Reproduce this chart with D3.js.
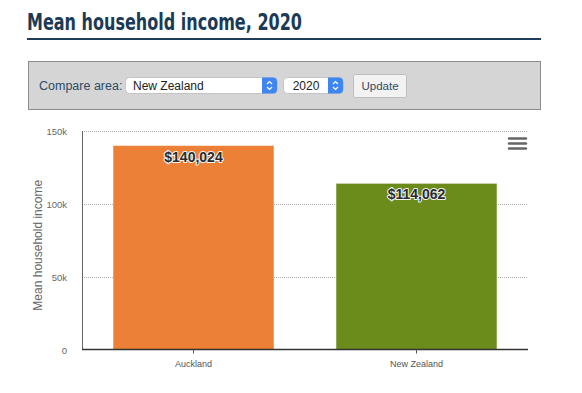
<!DOCTYPE html>
<html lang="en">
<head>
    <meta charset="UTF-8">
    <title>Mean household income, 2020</title>
    <script src="https://d3js.org/d3.v7.min.js"></script>
    <style>
        html, body { margin: 0; padding: 0; background: #fff; }
        svg { display: block; }
    </style>
</head>
<body>
    <div id="chart"></div>
    <script>
        // chart data
        const categories = ["Auckland", "New Zealand"];
        const values = [140024, 114062];
        const yTicks = [0, 50000, 100000, 150000];
        const areaOptions = ["New Zealand"];
        const yearOptions = ["2020"];

        const barColors = ["#ec8036", "#6b8c1b"];
        const width = 582, height = 393;

        const svg = d3.select("#chart").append("svg")
            .attr("width", width)
            .attr("height", height);

        // title + rule (condensed look squeezed with textLength)
        svg.append("text")
            .attr("x", 27).attr("y", 30)
            .attr("font-family", "DejaVu Sans, sans-serif")
            .attr("font-size", 23)
            .attr("font-weight", 600)
            .attr("fill", "#1b3a55")
            .attr("textLength", 275)
            .attr("lengthAdjust", "spacingAndGlyphs")
            .text("Mean household income, 2020");
        svg.append("rect")
            .attr("x", 27).attr("y", 38).attr("width", 514).attr("height", 2)
            .attr("fill", "#1f3d58");

        // control panel
        const ctl = svg.append("g").attr("font-family", "Liberation Sans, Arial, sans-serif");
        ctl.append("rect")
            .attr("x", 28.5).attr("y", 61.5).attr("width", 512).attr("height", 48)
            .attr("fill", "#d5d5d5").attr("stroke", "#8c8c8c");
        ctl.append("text")
            .attr("x", 39).attr("y", 90)
            .attr("font-size", 12.5).attr("fill", "#2d4b63")
            .text("Compare area:");

        function drawSelect(x, w, label, textX, anchor) {
            const g = ctl.append("g");
            g.append("rect")
                .attr("x", x + 0.5).attr("y", 77.5).attr("width", w).attr("height", 16)
                .attr("rx", 4).attr("fill", "#fff").attr("stroke", "#c4c4c4");
            g.append("path")
                .attr("d", `M${x + w - 15},77.5 h11 a4,4 0 0 1 4,4 v8 a4,4 0 0 1 -4,4 h-11 z`)
                .attr("fill", "#3f86f0");
            const cx = x + w - 7.5;
            g.append("path")
                .attr("d", `M${cx - 2.5},84 l2.5,-2.5 l2.5,2.5 M${cx - 2.5},87 l2.5,2.5 l2.5,-2.5`)
                .attr("fill", "none").attr("stroke", "#fff").attr("stroke-width", 1.2);
            g.append("text")
                .attr("x", textX).attr("y", 89.5)
                .attr("text-anchor", anchor)
                .attr("font-size", 12).attr("fill", "#222")
                .text(label);
        }
        drawSelect(125, 152, areaOptions[0], 133, "start");
        drawSelect(283, 60, yearOptions[0], 306, "middle");

        ctl.append("rect")
            .attr("x", 353.5).attr("y", 74.5).attr("width", 53).attr("height", 23)
            .attr("rx", 2).attr("fill", "#f2f2f2").attr("stroke", "#bdbdbd");
        ctl.append("text")
            .attr("x", 380).attr("y", 90)
            .attr("text-anchor", "middle")
            .attr("font-size", 11.5).attr("fill", "#2d4b63")
            .text("Update");

        // chart area
        const plot = { left: 82, right: 528, top: 131, bottom: 349.5 };

        const x = d3.scaleBand()
            .domain(categories)
            .range([plot.left, plot.right])
            .paddingInner(0.278)
            .paddingOuter(0.139);

        const y = d3.scaleLinear()
            .domain([0, 150000])
            .range([plot.bottom, plot.top]);

        const chart = svg.append("g").attr("font-family", "Liberation Sans, Arial, sans-serif");

        // grid lines
        chart.append("g")
            .selectAll("line")
            .data(yTicks.filter(d => d > 0))
            .join("line")
            .attr("x1", plot.left).attr("x2", plot.right)
            .attr("y1", d => Math.round(y(d)) + 0.5).attr("y2", d => Math.round(y(d)) + 0.5)
            .attr("stroke", "#a8a8a8")
            .attr("stroke-dasharray", "1,1");

        // y tick labels
        chart.append("g")
            .selectAll("text")
            .data(yTicks)
            .join("text")
            .attr("x", 67)
            .attr("y", d => y(d) + 4)
            .attr("text-anchor", "end")
            .attr("font-size", 9.5)
            .attr("fill", "#666")
            .text(d => d === 0 ? "0" : d3.format("~s")(d));

        // y title
        chart.append("text")
            .attr("transform", `translate(42,${(plot.top + plot.bottom) / 2 + 5}) rotate(-90)`)
            .attr("text-anchor", "middle")
            .attr("font-size", 12)
            .attr("fill", "#666")
            .text("Mean household income");

        // bars
        chart.append("g")
            .selectAll("rect")
            .data(values)
            .join("rect")
            .attr("x", (d, i) => x(categories[i]))
            .attr("y", d => y(d))
            .attr("width", x.bandwidth())
            .attr("height", d => plot.bottom - y(d))
            .attr("fill", (d, i) => barColors[i])
            .attr("stroke", "#fff")
            .attr("stroke-opacity", 0.5)
            .attr("stroke-width", 1);

        // bar labels
        chart.append("g")
            .selectAll("text")
            .data(values)
            .join("text")
            .attr("x", (d, i) => x(categories[i]) + x.bandwidth() / 2)
            .attr("y", d => y(d) + 16)
            .attr("text-anchor", "middle")
            .attr("font-size", 14)
            .attr("font-weight", "bold")
            .attr("fill", "#2b2b2b")
            .attr("stroke", "#f4f4f4")
            .attr("stroke-width", 2)
            .attr("stroke-linejoin", "round")
            .attr("paint-order", "stroke")
            .text(d => "$" + d3.format(",")(d));

        // axis lines
        chart.append("line")
            .attr("x1", plot.left + 0.5).attr("x2", plot.left + 0.5)
            .attr("y1", plot.top).attr("y2", plot.bottom)
            .attr("stroke", "#666");
        chart.append("line")
            .attr("x1", plot.left).attr("x2", plot.right)
            .attr("y1", plot.bottom).attr("y2", plot.bottom)
            .attr("stroke", "#333").attr("stroke-width", 1.5);

        // x ticks + labels
        const xt = chart.append("g")
            .selectAll("g")
            .data(categories)
            .join("g")
            .attr("transform", d => `translate(${x(d) + x.bandwidth() / 2},0)`);
        xt.append("line")
            .attr("y1", plot.bottom).attr("y2", plot.bottom + 4)
            .attr("stroke", "#555");
        xt.append("text")
            .attr("y", 367)
            .attr("text-anchor", "middle")
            .attr("font-size", 9)
            .attr("fill", "#555")
            .text(d => d);

        // menu icon
        chart.append("g")
            .selectAll("line")
            .data([138.5, 143.5, 148.5])
            .join("line")
            .attr("x1", 509).attr("x2", 526)
            .attr("y1", d => d).attr("y2", d => d)
            .attr("stroke", "#666")
            .attr("stroke-width", 2.5)
            .attr("stroke-linecap", "round");
    </script>
</body>
</html>
